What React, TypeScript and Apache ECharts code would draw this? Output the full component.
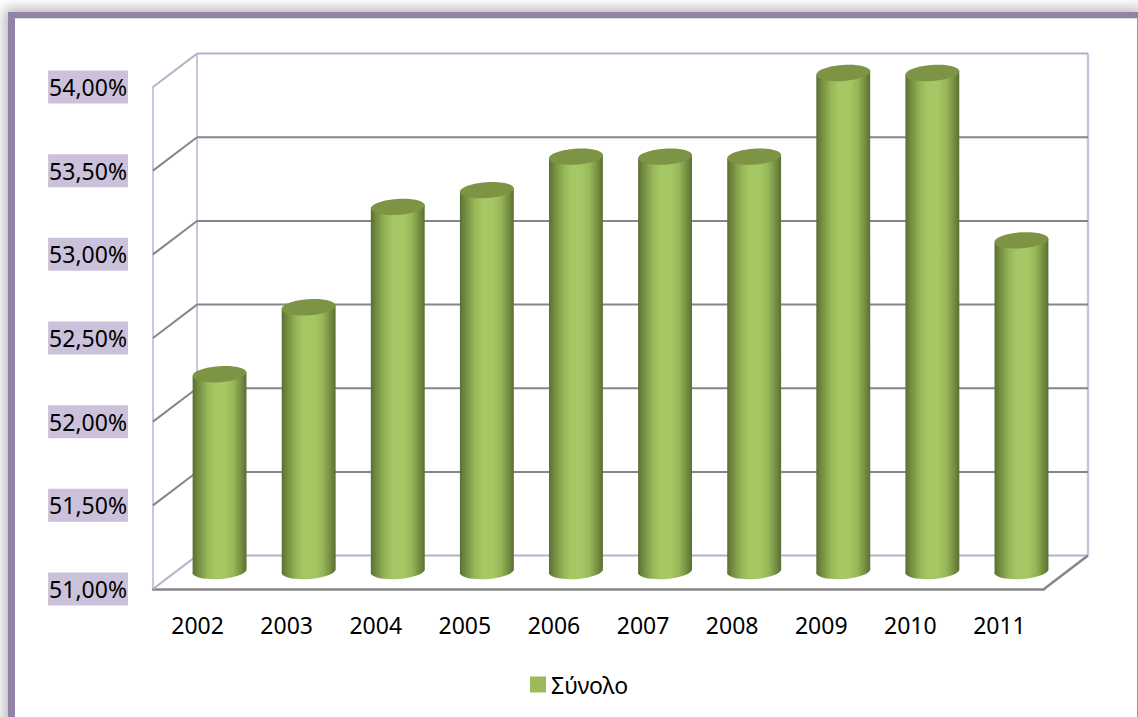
import React, { useEffect, useRef } from "react";
import * as echarts from "echarts";

const years = ["2002", "2003", "2004", "2005", "2006", "2007", "2008", "2009", "2010", "2011"];
const values = [52.2, 52.6, 53.2, 53.3, 53.5, 53.5, 53.5, 54, 54, 53];
const yTicks = [51, 51.5, 52, 52.5, 53, 53.5, 54];
const seriesName = "Σύνολο";

const G = { left: 153, top: 87, width: 891, height: 502 };
const DX = 44;
const DY = 33.4;
const GREY = "#868686";
const LILAC = "#b9afcb";
const WALL = "#ccc5de";
const FONT = "Noto Sans";
const FS = 23;

function line(x1: number, y1: number, x2: number, y2: number, stroke: string, lineWidth = 2) {
  return { type: "line", shape: { x1, y1, x2, y2 }, style: { stroke, lineWidth, fill: "none" } };
}

function renderWall(_: any, api: any) {
  const v = api.value(1);
  const y = api.coord([0, v])[1];
  const edge = v === yTicks[0] || v === yTicks[yTicks.length - 1];
  const c = edge ? LILAC : GREY;
  const L = G.left;
  const R = G.left + G.width;
  const children: any[] = [
    line(L, y, L + DX, y - DY, c),
    line(L + DX, y - DY, R + DX, y - DY, c),
  ];
  if (v === yTicks[0]) children.push(line(R, y, R + DX, y - DY, GREY, 2.5));
  return { type: "group", children };
}

function renderBar(_: any, api: any) {
  const i = api.value(0);
  const v = api.value(1);
  const cx = api.coord([i, v])[0] + 22;
  const topY = api.coord([i, v])[1] - 14;
  const baseY = api.coord([i, yTicks[0]])[1] - 19;
  const rx = 27;
  const ry = 8;
  const tilt = -4;
  const t = (tilt * Math.PI) / 180;
  const ex = rx * Math.cos(t);
  const ey = rx * Math.sin(t);
  const body = `M ${cx - ex} ${topY - ey} L ${cx - ex} ${baseY - ey} A ${rx} ${ry} ${tilt} 0 0 ${cx + ex} ${baseY + ey} L ${cx + ex} ${topY + ey} Z`;
  return {
    type: "group",
    children: [
      {
        type: "path",
        shape: { pathData: body },
        style: {
          fill: new echarts.graphic.LinearGradient(0, 0, 1, 0, [
            { offset: 0, color: "#5a6e34" },
            { offset: 0.1, color: "#728c40" },
            { offset: 0.28, color: "#97b758" },
            { offset: 0.42, color: "#a6c864" },
            { offset: 0.6, color: "#a6c864" },
            { offset: 0.76, color: "#97b758" },
            { offset: 0.91, color: "#728c40" },
            { offset: 1, color: "#5a6e34" },
          ]),
        },
      },
      {
        type: "ellipse",
        x: cx,
        y: topY,
        rotation: -t,
        shape: { cx: 0, cy: 0, rx, ry },
        style: { fill: "#7c9444" },
      },
    ],
  };
}

export default function App() {
  const ref = useRef<HTMLDivElement>(null);
  useEffect(() => {
    document.body.style.margin = "0";
    const chart = echarts.init(ref.current!, null, { renderer: "svg" });
    chart.setOption({
      animation: false,
      backgroundColor: "transparent",
      grid: { left: G.left, top: G.top, width: G.width, height: G.height },
      legend: {
        left: 525,
        top: 668,
        itemWidth: 16,
        itemHeight: 16,
        itemGap: 6,
        icon: "rect",
        data: [seriesName],
        textStyle: { fontFamily: FONT, fontSize: FS, color: "#000", padding: 0 },
      },
      xAxis: {
        type: "category",
        data: years,
        axisTick: { show: false },
        axisLine: { show: true, lineStyle: { color: GREY, width: 2.5 } },
        axisLabel: { color: "#000", fontFamily: FONT, fontSize: FS, margin: 24 },
      },
      yAxis: {
        type: "value",
        min: 51,
        max: 54,
        interval: 0.5,
        splitLine: { show: false },
        axisTick: { show: false },
        axisLine: { show: true, lineStyle: { color: WALL, width: 2 } },
        axisLabel: {
          color: "#000",
          fontFamily: FONT,
          fontSize: FS,
          margin: 25,
          backgroundColor: "#ccc1da",
          padding: [5, 1, 5, 1],
          formatter: (v: number) => v.toFixed(2).replace(".", ",") + "%",
        },
      },
      graphic: [
        {
          type: "group",
          silent: true,
          z: 0,
          children: [
            line(G.left + DX, G.top - DY, G.left + DX, G.top + G.height - DY, WALL),
            line(G.left + G.width + DX, G.top - DY, G.left + G.width + DX, G.top + G.height - DY, WALL, 2.5),
          ],
        },
      ],
      series: [
        {
          type: "custom",
          name: "walls",
          silent: true,
          z: 1,
          clip: false,
          renderItem: renderWall,
          encode: { x: 0, y: 1 },
          data: yTicks.map((t) => [0, t]),
        },
        {
          type: "custom",
          name: seriesName,
          z: 3,
          clip: false,
          itemStyle: { color: "#9bbb59" },
          renderItem: renderBar,
          encode: { x: 0, y: 1 },
          data: values.map((v, i) => [i, v]),
        },
      ],
    });
    return () => chart.dispose();
  }, []);
  return (
    <div style={{ position: "fixed", left: 0, top: 0, width: 1138, height: 717, overflow: "hidden", background: "#fff" }}>
      <div
        style={{
          position: "absolute",
          left: 8,
          top: 12,
          width: 1124,
          height: 730,
          background: "#fff",
          borderLeft: "7px solid #9182a6",
          borderTop: "6px solid #9182a6",
          boxShadow: "0 0 12px 4px rgba(0,0,0,0.28)",
        }}
      />
      <div style={{ position: "absolute", left: 15, top: 18, width: 1122, height: 1, background: "#ddd" }} />
      <div style={{ position: "absolute", left: 1137, top: 17, width: 1, height: 700, background: "#999" }} />
      <div ref={ref} style={{ position: "absolute", left: 0, top: 0, width: 1138, height: 717 }} />
    </div>
  );
}
